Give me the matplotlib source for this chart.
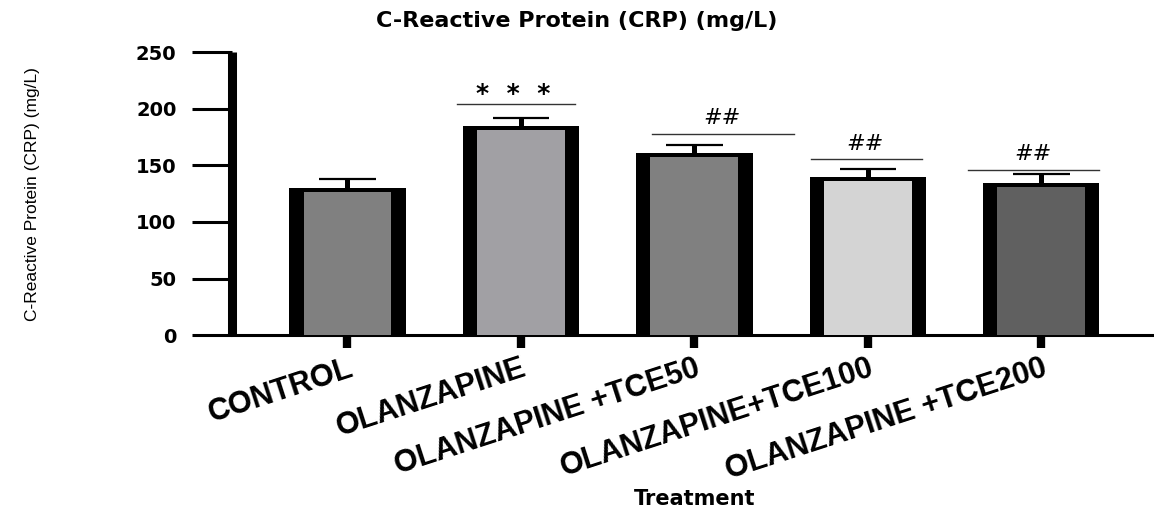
import matplotlib
matplotlib.use("Agg")
import matplotlib.pyplot as plt
import numpy as np

# Data
groups = ["CONTROL", "OLANZAPINE", "OLANZAPINE +TCE50",
          "OLANZAPINE+TCE100", "OLANZAPINE +TCE200"]
means = [130.0, 184.5, 160.5, 139.7, 134.4]
sems = [7.8, 7.5, 7.5, 7.3, 7.6]
fill_colors = ["#808080", "#a1a0a4", "#808080", "#d4d4d4", "#606060"]

# significance marks: label, bracket height, bracket x-span, text position
sig_labels = ["*  *  *", "##", "##", "##"]
sig_line_y = [204.0, 178.0, 155.5, 145.5]
sig_line_x0 = [0.63, 1.755, 2.67, 3.575]
sig_line_x1 = [1.31, 2.575, 3.31, 4.33]
sig_text_x = [0.955, 2.16, 2.985, 3.95]
sig_text_y = [207.0, 186.5, 163.5, 154.5]

yticks = [0, 50, 100, 150, 200, 250]

fig = plt.figure(figsize=(11.54, 5.14), dpi=100)
ax = fig.add_axes([0.201, 0.348, 0.8016, 0.5506])

x = np.arange(len(groups))
means_arr = np.array(means)
sems_arr = np.array(sems)

# black outer bar with a narrower grey fill inside
ax.bar(x, means_arr, width=0.669, color="black", zorder=2)
ax.bar(x, means_arr - 3.5, width=0.507, color=fill_colors, zorder=3)

# upper-only error bars: stem + cap
ax.vlines(x, means_arr, means_arr + sems_arr, color="black", linewidth=3.6,
          zorder=1)
ax.hlines(means_arr + sems_arr, x - 0.164, x + 0.164, color="black",
          linewidth=1.6, zorder=1)

# significance brackets and labels
for lab, ly, x0, x1, tx, ty in zip(sig_labels, sig_line_y, sig_line_x0,
                                   sig_line_x1, sig_text_x, sig_text_y):
    ax.plot([x0, x1], [ly, ly], color="#333333", linewidth=1.0, zorder=4,
            clip_on=False)
    if lab.startswith("*"):
        ax.text(tx, ty, lab, ha="center", va="baseline", fontsize=18,
                fontweight="bold", family="DejaVu Sans")
    else:
        ax.text(tx, ty, lab, ha="center", va="baseline", fontsize=16,
                style="italic", family="DejaVu Sans")

ax.set_xlim(-0.666, 4.666)
ax.set_ylim(0, 250)

ax.spines["top"].set_visible(False)
ax.spines["right"].set_visible(False)
ax.spines["left"].set_linewidth(6.5)
ax.spines["left"].set_capstyle("butt")
ax.spines["bottom"].set_linewidth(2.2)

ax.set_yticks(yticks)
ax.set_yticklabels([str(t) for t in yticks], fontsize=14, fontweight="bold",
                   family="DejaVu Sans")
ax.tick_params(axis="y", length=29, width=2.2, pad=11)

ax.set_xticks(x)
ax.set_xticklabels(groups, rotation=18, ha="right", va="top",
                   rotation_mode="anchor", fontsize=22, fontweight="bold",
                   family="Liberation Sans")
ax.tick_params(axis="x", length=9, width=6, pad=4)

ax.set_ylabel("C-Reactive Protein (CRP) (mg/L)", fontsize=12.5,
              family="Liberation Sans")
ax.yaxis.set_label_coords(-0.208, 0.5)
ax.set_xlabel("Treatment", fontsize=15, fontweight="bold",
              family="DejaVu Sans")
ax.xaxis.set_label_coords(0.5, -0.545)

fig.text(0.5, 0.96, "C-Reactive Protein (CRP) (mg/L)", ha="center",
         va="center", fontsize=16, fontweight="bold", family="DejaVu Sans")

fig.savefig("out.png", dpi=100)
